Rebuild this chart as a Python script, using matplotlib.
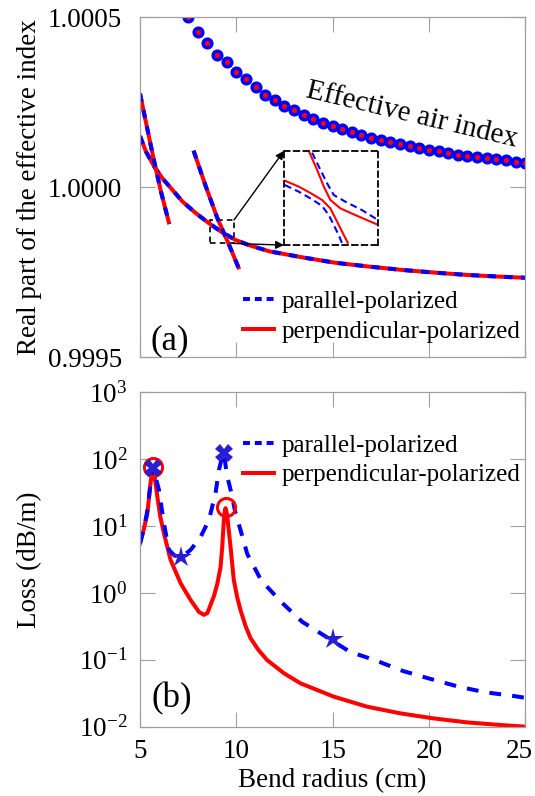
import numpy as np
import matplotlib.pyplot as plt
import matplotlib.transforms as mtransforms
from matplotlib.patches import Rectangle

plt.rcParams['font.family'] = ['Liberation Serif', 'DejaVu Serif']
plt.rcParams['mathtext.fontset'] = 'custom'
plt.rcParams['mathtext.rm'] = 'Liberation Serif'
plt.rcParams['mathtext.it'] = 'Liberation Serif:italic'
plt.rcParams['lines.scale_dashes'] = False

# (a) effective air index markers
air_x = [7.5, 8.0, 8.5, 9.0, 9.5, 10.0, 10.5, 11.0, 11.5, 12.0, 12.5, 13.0,
         13.5, 14.0, 14.5, 15.0, 15.5, 16.0, 16.5, 17.0, 17.5, 18.0, 18.5, 19.0,
         19.5, 20.0, 20.5, 21.0, 21.5, 22.0, 22.5, 23.0, 23.5, 24.0, 24.5, 25.0]
air_n = [1.000500, 1.000458, 1.000425, 1.000389, 1.000368, 1.000339, 1.000319,
         1.000294, 1.000271, 1.000257, 1.000239, 1.000228, 1.000213, 1.000202,
         1.000190, 1.000181, 1.000171, 1.000164, 1.000154, 1.000146, 1.000140,
         1.000134, 1.000127, 1.000121, 1.000116, 1.000110, 1.000106, 1.000100,
         1.000096, 1.000092, 1.000088, 1.000085, 1.000082, 1.000080, 1.000076,
         1.000073]

# (a) core mode (both polarizations overlap)
core_x = [5.0, 5.31, 5.74, 6.17, 6.69, 7.21, 7.90, 8.59, 9.28, 9.97, 10.66,
          11.70, 13.43, 15.16, 16.88, 18.61, 20.34, 22.06, 23.79, 25.0]
core_n = [1.000151, 1.000105, 1.000061, 1.000026, 0.999992, 0.999958, 0.999924,
          0.999894, 0.999867, 0.999845, 0.999830, 0.999812, 0.999794, 0.999778,
          0.999767, 0.999757, 0.999749, 0.999742, 0.999737, 0.999734]

# (a) steep cladding-mode branches
br1_x = [5.0, 5.39, 5.74, 6.09, 6.52]
br1_n = [1.000276, 1.000169, 1.000075, 0.999987, 0.999892]
br2_x = [7.78, 8.42, 9.02, 9.63, 10.15]
br2_n = [1.000108, 1.000002, 0.999909, 0.999830, 0.999759]

# zoomed inset curves (normalized inset coordinates)
insA_red_u = [0.011, 0.160, 0.301, 0.408, 0.496, 0.550, 0.621, 0.681]
insA_red_v = [0.684, 0.621, 0.543, 0.479, 0.390, 0.284, 0.142, 0.025]
insA_blu_u = [0.011, 0.160, 0.301, 0.408, 0.479, 0.532, 0.585, 0.621]
insA_blu_v = [0.638, 0.567, 0.486, 0.415, 0.319, 0.213, 0.106, 0.018]
insB_red_u = [0.273, 0.355, 0.426, 0.496, 0.603, 0.762, 0.993]
insB_red_v = [0.982, 0.798, 0.621, 0.479, 0.390, 0.319, 0.220]
insB_blu_u = [0.301, 0.390, 0.461, 0.532, 0.656, 0.833, 0.993]
insB_blu_v = [0.982, 0.798, 0.656, 0.532, 0.461, 0.372, 0.273]

# (b) loss, parallel polarization
par_x = [5.0, 5.2, 5.4, 5.55, 5.68, 5.80, 5.98, 6.24, 6.50, 6.8, 7.11, 7.4,
         7.63, 8.15, 8.58, 8.92, 9.10, 9.25, 9.36, 9.50, 9.70, 9.96, 10.22,
         10.57, 10.74, 11.26, 11.43, 12.38, 13.42, 14.51, 15.89, 17.27, 18.65,
         20.16, 21.54, 22.92, 24.39, 25.0]
par_loss = [5.5, 9, 18, 45, 77, 55, 35, 11, 4.4, 3.6, 3.5, 3.9,
            4.4, 6.9, 12.3, 31, 69, 105, 125, 60, 35, 15.5, 8.7,
            3.8, 3.1, 1.6, 1.39, 0.71, 0.37, 0.235, 0.132, 0.097, 0.068,
            0.051, 0.0396, 0.0327, 0.0288, 0.027]
# (b) loss, perpendicular polarization
perp_x = [5.0, 5.2, 5.38, 5.55, 5.68, 5.80, 5.90, 6.05, 6.24, 6.59, 7.11, 7.63,
          8.06, 8.32, 8.50, 8.66, 8.84, 9.01, 9.18, 9.27, 9.35, 9.41, 9.44,
          9.48, 9.53, 9.62, 9.70, 9.87, 10.05, 10.22, 10.48, 10.74, 11.15, 11.6,
          12.47, 13.33, 15.06, 16.79, 18.52, 20.24, 21.97, 23.7, 25.0]
perp_loss = [5.5, 9, 15.5, 45, 77, 45, 27.5, 14, 7.8, 3.1, 1.39, 0.78,
             0.52, 0.47, 0.50, 0.66, 0.9, 1.35, 2.4, 4.9, 12, 17.5, 18.5,
             17, 14, 8, 4.9, 1.56, 0.85, 0.55, 0.32, 0.21, 0.14, 0.099,
             0.063, 0.0445, 0.0281, 0.0199, 0.0158, 0.0133, 0.0116, 0.0106, 0.0100]

circ_x, circ_y = [5.68, 9.44], [77, 19]
cross_x, cross_y = [5.68, 9.36], [75, 125]
star_x, star_y = [7.11, 15.0], [3.5, 0.205]

BLUE = '#0000ff'
RED = '#ff0000'
MARK = '#2a1fd0'
GRAY = '#a0a0a0'
FS = 19.5

fig = plt.figure(figsize=(5.35, 7.96), dpi=100)
ax1 = fig.add_axes([0.2617, 0.5511, 0.7200, 0.4271])
ax2 = fig.add_axes([0.2617, 0.0871, 0.7200, 0.4201])

for ax in (ax1, ax2):
    ax.tick_params(direction='in', length=11, width=0.8, color=GRAY,
                   top=True, right=True, labelsize=FS)
    for s in ax.spines.values():
        s.set_color(GRAY)
        s.set_linewidth(0.9)
    ax.set_xlim(5, 25)
    ax.set_xticks([5, 10, 15, 20, 25])
ax1.tick_params(axis='y', pad=13)
ax2.tick_params(axis='y', pad=9)
ax2.tick_params(axis='x', pad=9)

# ---- panel (a)
ax1.plot(air_x, air_n, 'o', ms=6.2, mfc=RED, mec=BLUE, mew=2.5)
for xs, ys in [(core_x, core_n), (br1_x, br1_n), (br2_x, br2_n)]:
    ax1.plot(xs, ys, color=RED, lw=2.9, solid_capstyle='butt')
    ax1.plot(xs, ys, color=BLUE, lw=2.9, dashes=(6, 6))
ax1.set_ylim(0.9995, 1.0005)
ax1.set_yticks([0.9995, 1.0, 1.0005])
ax1.set_yticklabels(['0.9995', '1.0000', '1.0005'])
ax1.set_xticklabels([])
ax1.set_ylabel('Real part of the effective index', fontsize=FS)
ax1.yaxis.set_label_coords(-0.254, 0.5)

ax1.text(19.1, 1.000213, 'Effective air index', fontsize=21, rotation=-13.3,
         ha='center', va='center')

# zoom box and inset
bx0, bx1, by0, by1 = 8.64, 9.88, 0.999835, 0.999904
ax1.add_patch(Rectangle((bx0, by0), bx1 - bx0, by1 - by0, fill=False,
                        ec='k', lw=1.2, ls=(0, (4, 3))))
ix0, ix1, iy0, iy1 = 12.47, 17.34, 0.999830, 1.000107
ins = ax1.inset_axes([ix0, iy0, ix1 - ix0, iy1 - iy0], transform=ax1.transData)
ins.set_xlim(0, 1)
ins.set_ylim(0, 1)
ins.set_xticks([])
ins.set_yticks([])
ins.patch.set_alpha(0)
for s in ins.spines.values():
    s.set_linestyle((0, (4, 3)))
    s.set_linewidth(1.3)
    s.set_color('k')
ins.plot(insA_red_u, insA_red_v, color=RED, lw=1.5)
ins.plot(insA_blu_u, insA_blu_v, color=BLUE, lw=1.5, dashes=(5, 3))
ins.plot(insB_red_u, insB_red_v, color=RED, lw=1.5)
ins.plot(insB_blu_u, insB_blu_v, color=BLUE, lw=1.5, dashes=(5, 3))
arrow = dict(arrowstyle='-|>', color='k', lw=1.0, mutation_scale=12,
             shrinkA=0, shrinkB=0)
ax1.annotate('', xy=(ix0, iy1), xytext=(bx1, by1), arrowprops=arrow)
ax1.annotate('', xy=(ix0, iy0), xytext=(bx1, by0), arrowprops=arrow)

h1, = ax1.plot([], [], color=BLUE, lw=2.9, dashes=(5, 3.5))
h2, = ax1.plot([], [], color=RED, lw=2.9)
leg_kw = dict(loc='upper left', frameon=False, fontsize=18, handlelength=1.25,
              handletextpad=0.3, labelspacing=0.28, borderpad=0, borderaxespad=0)
ax1.legend([h1, h2], ['parallel-polarized', 'perpendicular-polarized'],
           bbox_to_anchor=(0.267, 0.196), **leg_kw)
ax1.text(0.028, 0.048, '(a)', transform=ax1.transAxes, fontsize=25,
         ha='left', va='center')

# ---- panel (b)
ax2.set_yscale('log')
ax2.plot(perp_x, perp_loss, color=RED, lw=2.9)
ax2.plot(par_x, par_loss, color=BLUE, lw=2.9, dashes=(8.5, 8))
ax2.plot(circ_x, circ_y, 'o', ms=13, mfc='none', mec=RED, mew=2.2)
ax2.plot(cross_x, cross_y, 'X', ms=12.5, color=MARK, mew=0)
ax2.plot(star_x, star_y, '*', ms=16, color=MARK, mew=0)
ax2.set_ylim(1e-2, 1e3)
ax2.set_yticks([1e-2, 1e-1, 1e0, 1e1, 1e2, 1e3])
ax2.minorticks_off()
ax2.set_xticklabels(['5', '10', '15', '20', '25'])
# keep the last tick label inside the canvas, as in the original
last = ax2.get_xticklabels()[-1]
last.set_transform(last.get_transform() +
                   mtransforms.ScaledTranslation(-4 / 72, 0, fig.dpi_scale_trans))
ax2.set_xlabel('Bend radius (cm)', fontsize=FS, labelpad=3)
ax2.set_ylabel('Loss (dB/m)', fontsize=FS)
ax2.yaxis.set_label_coords(-0.254, 0.5)
ax2.legend([h1, h2], ['parallel-polarized', 'perpendicular-polarized'],
           bbox_to_anchor=(0.267, 0.874), **leg_kw)
ax2.text(0.03, 0.083, '(b)', transform=ax2.transAxes, fontsize=25,
         ha='left', va='center')

fig.savefig('out.png', dpi=100)
